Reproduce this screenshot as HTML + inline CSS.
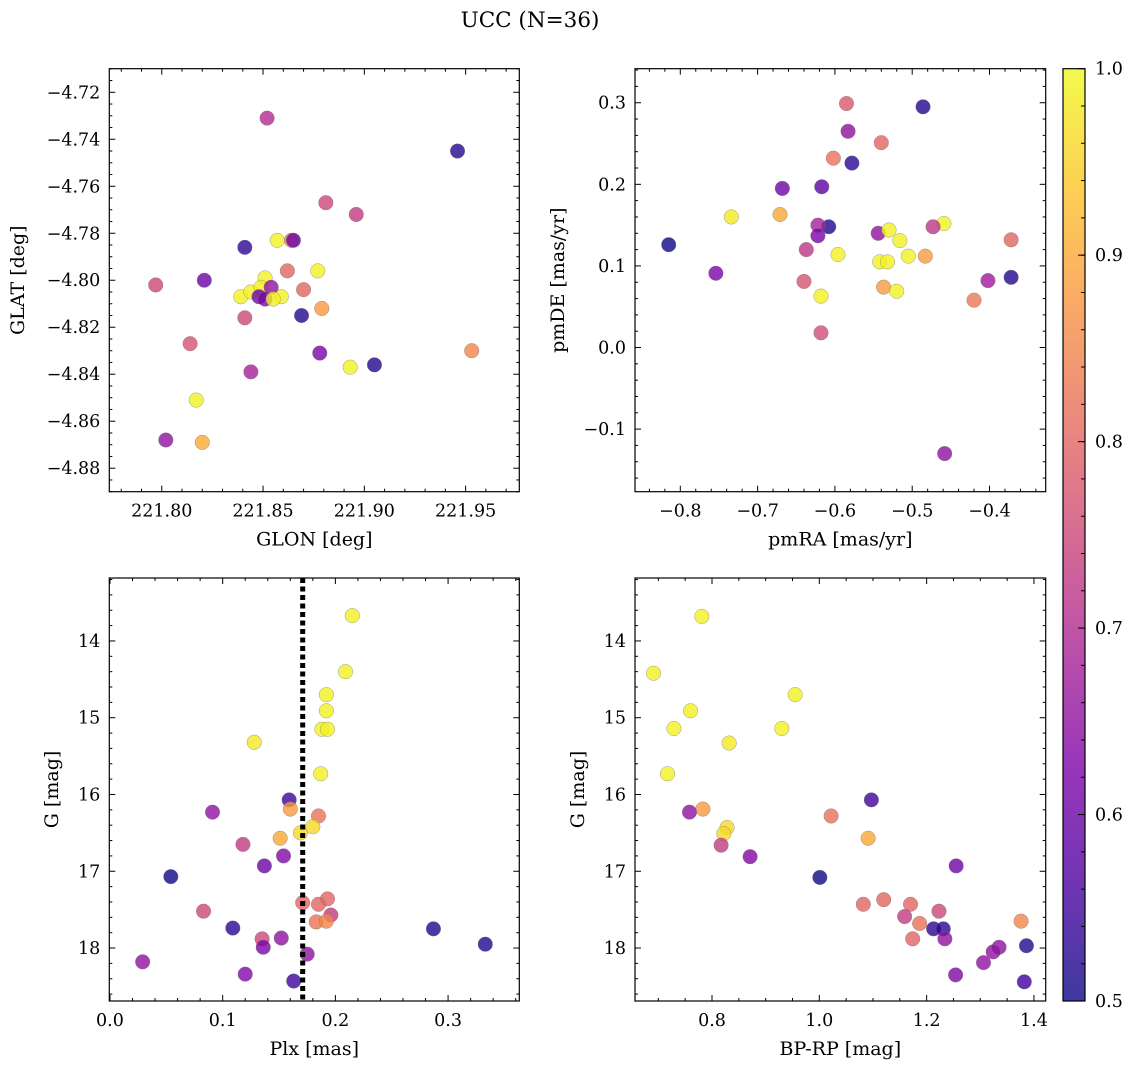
<!DOCTYPE html>
<html><head><meta charset="utf-8">
<style>
html,body{margin:0;padding:0;background:#fff;}
svg{display:block;font-family:"DejaVu Serif","Liberation Serif",serif;}
</style></head>
<body>
<svg id="fig" width="1136" height="1068" viewBox="0 0 1136 1068" xmlns="http://www.w3.org/2000/svg">
<text x="530" y="27" font-size="21.5" text-anchor="middle">UCC (N=36)</text>
<defs>
<linearGradient id="cbgrad" x1="0" y1="1" x2="0" y2="0">
<stop offset="0" stop-color="#0d0887"/><stop offset="0.125" stop-color="#4c02a1"/>
<stop offset="0.25" stop-color="#7e03a8"/><stop offset="0.375" stop-color="#a92395"/>
<stop offset="0.5" stop-color="#cc4778"/><stop offset="0.625" stop-color="#e66c5c"/>
<stop offset="0.75" stop-color="#f89540"/><stop offset="0.875" stop-color="#fdc527"/>
<stop offset="1" stop-color="#f0f921"/>
</linearGradient>
</defs>
</svg>
<script>
// ---- data: top-left (GLON/GLAT)
const tlGlon = [221.852,221.946,221.881,221.896,221.857,221.864,221.865,221.841,221.862,221.877,221.851,221.797,221.821,221.839,221.844,221.849,221.859,221.848,221.854,221.851,221.855,221.870,221.879,221.841,221.869,221.814,221.878,221.844,221.893,221.905,221.953,221.817,221.802,221.820];
const tlGlat = [-4.731,-4.745,-4.767,-4.772,-4.783,-4.783,-4.783,-4.786,-4.796,-4.796,-4.799,-4.802,-4.800,-4.807,-4.805,-4.803,-4.807,-4.807,-4.803,-4.808,-4.808,-4.804,-4.812,-4.816,-4.815,-4.827,-4.831,-4.839,-4.837,-4.836,-4.830,-4.851,-4.868,-4.869];
const tlProb = [0.70,0.52,0.75,0.73,0.99,0.85,0.60,0.53,0.80,0.99,0.99,0.75,0.60,0.99,0.99,0.99,0.99,0.60,0.65,0.62,0.99,0.80,0.88,0.75,0.52,0.77,0.62,0.68,0.99,0.52,0.85,0.99,0.65,0.90];
// ---- data: top-right (pmRA/pmDE)
const trPmra = [-0.486,-0.585,-0.540,-0.583,-0.578,-0.602,-0.668,-0.617,-0.734,-0.671,-0.815,-0.608,-0.622,-0.622,-0.544,-0.530,-0.459,-0.473,-0.637,-0.596,-0.542,-0.532,-0.516,-0.505,-0.483,-0.754,-0.372,-0.372,-0.402,-0.640,-0.537,-0.520,-0.618,-0.420,-0.618,-0.458];
const trPmde = [0.295,0.299,0.251,0.265,0.226,0.232,0.195,0.197,0.160,0.163,0.126,0.148,0.150,0.137,0.140,0.144,0.152,0.148,0.120,0.114,0.105,0.105,0.131,0.112,0.112,0.091,0.132,0.086,0.082,0.081,0.074,0.069,0.063,0.058,0.018,-0.130];
const trProb = [0.52,0.78,0.80,0.65,0.53,0.82,0.60,0.58,0.98,0.90,0.50,0.52,0.68,0.62,0.65,0.99,0.99,0.72,0.72,0.99,0.99,0.99,0.99,0.99,0.88,0.62,0.80,0.52,0.67,0.77,0.88,0.99,0.99,0.83,0.76,0.65];
// ---- data: bottom-left (Plx/G)
const blPlx = [0.215,0.209,0.192,0.192,0.188,0.193,0.128,0.187,0.159,0.160,0.185,0.091,0.151,0.169,0.180,0.118,0.154,0.137,0.054,0.171,0.193,0.083,0.185,0.196,0.183,0.192,0.109,0.135,0.152,0.136,0.287,0.333,0.029,0.120,0.175,0.163];
const blG = [13.67,14.40,14.70,14.91,15.15,15.15,15.32,15.73,16.07,16.19,16.28,16.23,16.57,16.50,16.42,16.65,16.80,16.93,17.07,17.41,17.36,17.52,17.43,17.57,17.66,17.65,17.74,17.88,17.87,17.99,17.75,17.95,18.18,18.34,18.08,18.43];
const blProb = [0.99,0.99,0.99,0.99,0.99,0.99,0.98,0.99,0.55,0.88,0.82,0.65,0.90,0.96,0.96,0.73,0.63,0.60,0.50,0.80,0.80,0.75,0.80,0.73,0.82,0.85,0.53,0.75,0.65,0.62,0.52,0.52,0.65,0.63,0.65,0.55];
const plxLine = [0.171];
// ---- data: bottom-right (BP-RP/G)
const brColor = [0.781,0.691,0.955,0.760,0.729,0.930,0.832,0.717,1.097,0.783,0.758,1.022,0.828,0.822,1.091,0.817,0.871,1.255,1.001,1.082,1.120,1.170,1.223,1.159,1.187,1.376,1.213,1.231,1.174,1.234,1.386,1.335,1.324,1.306,1.254,1.382];
const brG = [13.68,14.42,14.70,14.91,15.14,15.14,15.33,15.73,16.07,16.19,16.23,16.28,16.43,16.51,16.57,16.66,16.81,16.93,17.08,17.43,17.37,17.43,17.52,17.59,17.68,17.65,17.75,17.75,17.88,17.88,17.97,17.99,18.05,18.19,18.35,18.44];
const brProb = [0.99,0.99,0.99,0.99,0.99,0.99,0.98,0.99,0.55,0.88,0.65,0.82,0.96,0.96,0.90,0.73,0.63,0.60,0.50,0.80,0.80,0.80,0.75,0.73,0.82,0.85,0.53,0.53,0.80,0.65,0.52,0.65,0.65,0.65,0.63,0.55];
// ---- tick labels
const tlXTicks = [221.80,221.85,221.90,221.95];
const tlYTicks = [-4.88,-4.86,-4.84,-4.82,-4.80,-4.78,-4.76,-4.74,-4.72];
const trXTicks = [-0.8,-0.7,-0.6,-0.5,-0.4];
const trYTicks = [-0.1,0.0,0.1,0.2,0.3];
const blXTicks = [0.0,0.1,0.2,0.3];
const gTicks = [14,15,16,17,18];
const brXTicks = [0.8,1.0,1.2,1.4];
const cbTicks = [0.5,0.6,0.7,0.8,0.9,1.0];

const NS = "http://www.w3.org/2000/svg";
const svg = document.getElementById('fig');
const TICKFS = 17.5, LABFS = 19;
function mk(tag, attrs, parent){
  const e = document.createElementNS(NS, tag);
  for (const k in attrs) e.setAttribute(k, attrs[k]);
  (parent||svg).appendChild(e);
  return e;
}
const stops = [[13,8,135],[76,2,161],[126,3,168],[169,35,149],[204,71,120],[230,108,92],[248,149,64],[253,197,39],[240,249,33]];
function plasma(v){
  let t = (v-0.5)/0.5; t = Math.max(0, Math.min(1, t));
  const f = t*8, i = Math.min(7, Math.floor(f)), r = f-i;
  const a = stops[i], b = stops[i+1];
  return 'rgb(' + [0,1,2].map(j => Math.round(a[j]+(b[j]-a[j])*r)).join(',') + ')';
}
function fmtMinus(s){ return s.replace('-', '\u2212'); }

function panel(o){
  const g = mk('g', {});
  
  
  const sx = v => o.x0 + (v-o.xlim[0])/(o.xlim[1]-o.xlim[0])*(o.x1-o.x0);
  const sy = v => o.y1 - (v-o.ylim[0])/(o.ylim[1]-o.ylim[0])*(o.y1-o.y0);
  const pg = mk('g', {}, g);
  
  
  for (let i=0;i<o.xs.length;i++){
    const c = mk('circle', {cx:sx(o.xs[i]), cy:sy(o.ys[i]), r:7.3, fill:plasma(o.cs[i]), 'fill-opacity':0.8, stroke:'#777', 'stroke-width':0.5, 'stroke-opacity':0.7}, pg);
    
    
  }
  if (o.vline){
    const l = mk('line', {x1:sx(o.vline[0]), x2:sx(o.vline[0]), y1:o.y0, y2:o.y1, stroke:'#000', 'stroke-width':5, 'stroke-dasharray':'5,3.5'}, g);
    
    
  }
  const tk = mk('g', {stroke:'#000', 'stroke-width':1}, g);
  const xr = [Math.min(o.xlim[0],o.xlim[1]), Math.max(o.xlim[0],o.xlim[1])];
  const yr = [Math.min(o.ylim[0],o.ylim[1]), Math.max(o.ylim[0],o.ylim[1])];
  for (let k=Math.ceil(xr[0]/o.xminor-1e-6); k*o.xminor<=xr[1]+1e-9; k++){
    const v=k*o.xminor, px=sx(v);
    const major = Math.abs(v/o.xmajor - Math.round(v/o.xmajor))<1e-4;
    const L = major?6:3;
    mk('line',{x1:px,x2:px,y1:o.y1,y2:o.y1-L},tk); mk('line',{x1:px,x2:px,y1:o.y0,y2:o.y0+L},tk);
  }
  for (let k=Math.ceil(yr[0]/o.yminor-1e-6); k*o.yminor<=yr[1]+1e-9; k++){
    const v=k*o.yminor, py=sy(v);
    const major = Math.abs(v/o.ymajor - Math.round(v/o.ymajor))<1e-4;
    const L = major?6:3;
    mk('line',{x1:o.x0,x2:o.x0+L,y1:py,y2:py},tk); mk('line',{x1:o.x1,x2:o.x1-L,y1:py,y2:py},tk);
  }
  const fr = mk('rect',{x:o.x0,y:o.y0,width:o.x1-o.x0,height:o.y1-o.y0,fill:'none',stroke:'#000','stroke-width':1.2},g);
  
  
  o.xticks.forEach(v=>{
    const t = mk('text',{x:sx(v),y:o.y1+25,'font-size':TICKFS,'text-anchor':'middle'},g);
    t.textContent = fmtMinus(v.toFixed(o.xdec));
    
    
  });
  o.yticks.forEach(v=>{
    const t = mk('text',{x:o.x0-9,y:sy(v)+6,'font-size':TICKFS,'text-anchor':'end'},g);
    t.textContent = fmtMinus(v.toFixed(o.ydec));
    
    
  });
  const xl = mk('text',{x:(o.x0+o.x1)/2,y:o.y1+54,'font-size':LABFS,'text-anchor':'middle'},g);
  xl.textContent = o.xlabel;
  
  
  const yl = mk('text',{x:0,y:0,'font-size':LABFS,'text-anchor':'middle',transform:'translate('+o.ylx+','+((o.y0+o.y1)/2)+') rotate(-90)'},g);
  yl.textContent = o.ylabel;
  
  
}

panel({name:'glon-glat-panel', x0:109.3,x1:519.3,y0:68.7,y1:491.7, xlim:[221.7741,221.9765], ylim:[-4.8900,-4.70996],
  xs:tlGlon, ys:tlGlat, cs:tlProb, xmajor:0.05,xminor:0.01,ymajor:0.02,yminor:0.005,
  xticks:tlXTicks, yticks:tlYTicks, xdec:2, ydec:2, xlabel:'GLON [deg]', ylabel:'GLAT [deg]', ylx:24});
panel({name:'proper-motion-panel', x0:635,x1:1045.7,y0:68.7,y1:491.7, xlim:[-0.8586,-0.3273], ylim:[-0.1767,0.3417],
  xs:trPmra, ys:trPmde, cs:trProb, xmajor:0.1,xminor:0.02,ymajor:0.1,yminor:0.02,
  xticks:trXTicks, yticks:trYTicks, xdec:1, ydec:1, xlabel:'pmRA [mas/yr]', ylabel:'pmDE [mas/yr]', ylx:564});
panel({name:'parallax-magnitude-panel', x0:109.3,x1:519.3,y0:578,y1:1001, xlim:[-0.0006,0.3632], ylim:[18.69,13.18],
  xs:blPlx, ys:blG, cs:blProb, vline:plxLine, xmajor:0.1,xminor:0.02,ymajor:1,yminor:0.2,
  xticks:blXTicks, yticks:gTicks, xdec:1, ydec:0, xlabel:'Plx [mas]', ylabel:'G [mag]', ylx:58});
panel({name:'color-magnitude-panel', x0:635,x1:1045.7,y0:578,y1:1001, xlim:[0.6565,1.4219], ylim:[18.69,13.18],
  xs:brColor, ys:brG, cs:brProb, xmajor:0.2,xminor:0.05,ymajor:1,yminor:0.2,
  xticks:brXTicks, yticks:gTicks, xdec:1, ydec:0, xlabel:'BP-RP [mag]', ylabel:'G [mag]', ylx:584});

(function(){
  const x0=1063,x1=1085,y0=68.7,y1=1001;
  const g = mk('g',{});
  
  
  mk('rect',{x:x0,y:y0,width:x1-x0,height:y1-y0,fill:'url(#cbgrad)','fill-opacity':0.8},g);
  const sy = v => y1 - (v-0.5)/0.5*(y1-y0);
  for (let k=25;k<=50;k++){
    const v=k*0.02, py=sy(v);
    mk('line',{x1:x1,x2:x1-4,y1:py,y2:py,stroke:'#000','stroke-width':1},g);
  }
  cbTicks.forEach(v=>{
    mk('line',{x1:x1,x2:x1-7,y1:sy(v),y2:sy(v),stroke:'#000','stroke-width':1},g);
    const t = mk('text',{x:x1+10,y:sy(v)+6,'font-size':TICKFS},g);
    t.textContent = v.toFixed(1);
    
    
  });
  mk('rect',{x:x0,y:y0,width:x1-x0,height:y1-y0,fill:'none',stroke:'#000','stroke-width':1.2},g);
})();
</script>
</body></html>
